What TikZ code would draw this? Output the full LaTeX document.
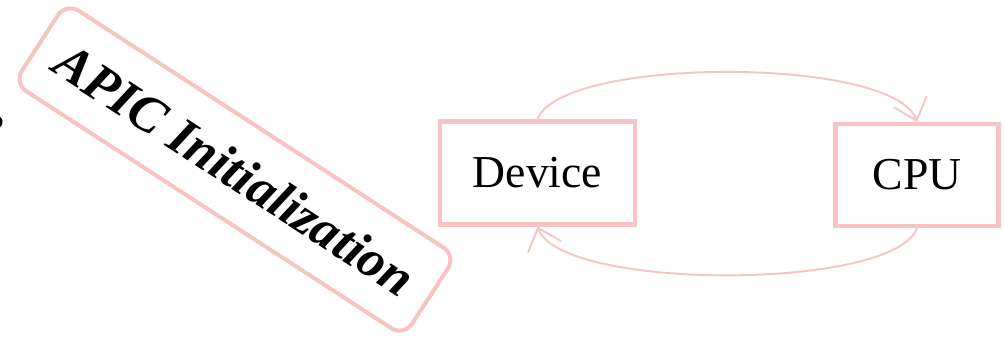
\documentclass[tikz,border=0pt]{standalone}
\usepackage{fontspec}
\setmainfont{Liberation Serif}
\usetikzlibrary{arrows.meta}
\definecolor{boxpink}{RGB}{246,196,196}
\begin{document}
\begin{tikzpicture}[
    box/.style={draw=boxpink, line width=2.3pt, rectangle, font=\fontsize{26}{30}\selectfont},
    link/.style={draw=boxpink, line width=1.1pt, -{Straight Barb[length=4mm, width=7mm]}}
]
    \useasboundingbox (0,0) rectangle (20.08,6.76);

    % cut-off mark at the left edge
    \node[anchor=east, inner sep=0pt, font=\fontsize{20}{24}\selectfont\bfseries] (mark) at (0.1,4.2) {?};

    % APIC Initialization
    \node[box, rounded corners=0.3cm, minimum width=9.3cm, minimum height=1.92cm, rotate=-33,
          font=\fontsize{30}{34}\selectfont\bfseries\itshape] (apic) at (4.7,3.37) {APIC Initialization};

    % Device
    \node[box, minimum width=3.9cm, minimum height=2.06cm] (dev) at (10.75,3.3) {Device};

    % CPU
    \node[box, minimum width=3.26cm, minimum height=2.04cm] (cpu) at (18.34,3.26) {CPU};

    % Associations
    \draw[link] (dev.north) .. controls (11.2,5.64) and (17.9,5.64) .. (cpu.north);
    \draw[link] (cpu.south) .. controls (17.9,0.94) and (11.2,0.94) .. (dev.south);
\end{tikzpicture}
\end{document}
